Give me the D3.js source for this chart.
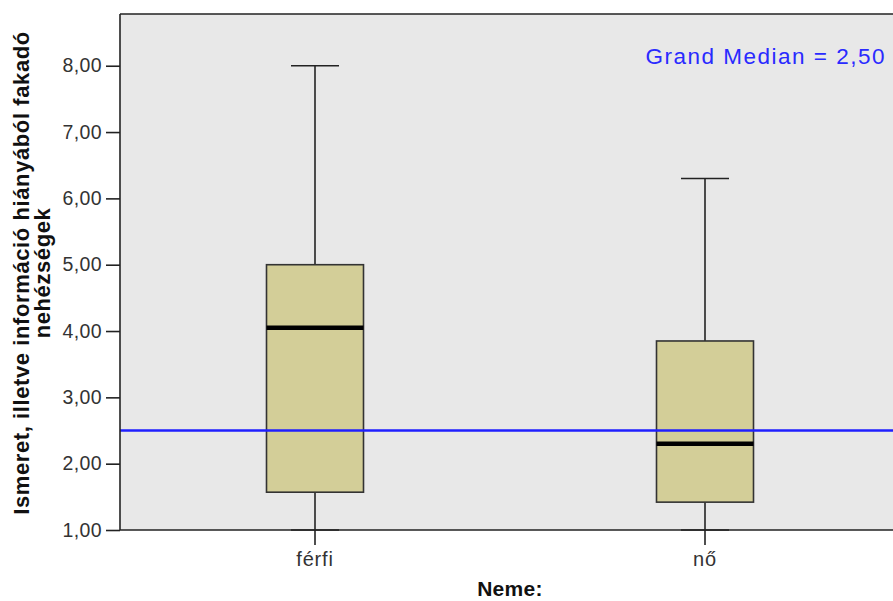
<!DOCTYPE html>
<html>
<head>
<meta charset="utf-8">
<script src="https://cdn.jsdelivr.net/npm/d3@7"></script>
<style>
  html, body { margin: 0; padding: 0; background: #fff; }
  svg { display: block; }
</style>
</head>
<body>
<svg id="chart" width="893" height="601"></svg>
<script>
// Group labels and box-plot summaries
const categories = ["férfi", "nő"];
const minValues    = [1.00, 1.00];
const q1Values     = [1.57, 1.42];
const medianValues = [4.05, 2.30];
const q3Values     = [5.00, 3.85];
const maxValues    = [8.00, 6.30];
const grandMedian = 2.50;
const yTicks = [1, 2, 3, 4, 5, 6, 7, 8];
const yTitleLines = ["Ismeret, illetve információ hiányából fakadó", "nehézségek"];
const xTitle = "Neme:";

const FONT = "Liberation Sans, Arial, sans-serif";
const svg = d3.select("#chart");
const plot = { left: 120, top: 14, right: 900, bottom: 530 };

const x = d3.scaleBand().domain(categories).range([plot.left, plot.right]).padding(0);
const y = d3.scaleLinear().domain([1, 8.78]).range([plot.bottom, plot.top]);

const fmt = v => d3.format(".2f")(v).replace(".", ",");

// plot background
svg.append("rect")
  .attr("x", plot.left).attr("y", plot.top)
  .attr("width", plot.right - plot.left).attr("height", plot.bottom - plot.top)
  .attr("fill", "#e8e8e8");

const boxes = categories.map((c, i) => ({
  cat: c, min: minValues[i], q1: q1Values[i], med: medianValues[i], q3: q3Values[i], max: maxValues[i]
}));

const boxW = 97;
const capW = 48;
const g = svg.append("g");

boxes.forEach(d => {
  const cx = x(d.cat) + x.bandwidth() / 2;
  // whiskers
  g.append("line").attr("x1", cx).attr("x2", cx).attr("y1", y(d.q3)).attr("y2", y(d.max))
    .attr("stroke", "#222").attr("stroke-width", 1.6);
  g.append("line").attr("x1", cx).attr("x2", cx).attr("y1", y(d.q1)).attr("y2", y(d.min))
    .attr("stroke", "#222").attr("stroke-width", 1.6);
  // caps
  g.append("line").attr("x1", cx - capW / 2).attr("x2", cx + capW / 2).attr("y1", y(d.max)).attr("y2", y(d.max))
    .attr("stroke", "#222").attr("stroke-width", 1.6);
  g.append("line").attr("x1", cx - capW / 2).attr("x2", cx + capW / 2).attr("y1", y(d.min)).attr("y2", y(d.min))
    .attr("stroke", "#222").attr("stroke-width", 1.6);
  // box
  g.append("rect")
    .attr("x", cx - boxW / 2).attr("y", y(d.q3))
    .attr("width", boxW).attr("height", y(d.q1) - y(d.q3))
    .attr("fill", "#d3ce98").attr("stroke", "#333").attr("stroke-width", 1.6);
  // median
  g.append("line").attr("x1", cx - boxW / 2).attr("x2", cx + boxW / 2)
    .attr("y1", y(d.med)).attr("y2", y(d.med))
    .attr("stroke", "#000").attr("stroke-width", 4.5);
});

// grand median reference line
svg.append("line")
  .attr("x1", plot.left).attr("x2", plot.right)
  .attr("y1", y(grandMedian)).attr("y2", y(grandMedian))
  .attr("stroke", "#1f1fff").attr("stroke-width", 2.6);

svg.append("text")
  .attr("x", 886).attr("y", 64)
  .attr("text-anchor", "end")
  .attr("font-family", FONT)
  .attr("font-size", 22.5)
  .attr("letter-spacing", 1.5)
  .attr("fill", "#2a2aff")
  .text("Grand Median = " + fmt(grandMedian));

// frame line (top)
svg.append("line").attr("x1", plot.left).attr("x2", plot.right).attr("y1", plot.top).attr("y2", plot.top)
  .attr("stroke", "#222").attr("stroke-width", 1.6);

// y axis
const yAxis = svg.append("g")
  .attr("transform", `translate(${plot.left},0)`)
  .call(d3.axisLeft(y).tickValues(yTicks).tickFormat(fmt).tickSize(14).tickPadding(4));
yAxis.select(".domain").attr("stroke", "#222").attr("stroke-width", 1.6)
  .attr("d", `M0,${plot.top}V${plot.bottom}`);
yAxis.selectAll(".tick line").attr("stroke", "#222").attr("stroke-width", 1.6);
yAxis.selectAll(".tick text")
  .attr("font-family", FONT)
  .attr("font-size", 19.5).attr("letter-spacing", 0.4).attr("fill", "#333");

// x axis
const xAxis = svg.append("g")
  .attr("transform", `translate(0,${plot.bottom})`)
  .call(d3.axisBottom(x).tickSize(15).tickPadding(7));
xAxis.select(".domain").attr("stroke", "#222").attr("stroke-width", 1.6)
  .attr("d", `M${plot.left},0H${plot.right}`);
xAxis.selectAll(".tick line").attr("stroke", "#222").attr("stroke-width", 1.6);
xAxis.selectAll(".tick text")
  .attr("font-family", FONT)
  .attr("font-size", 20).attr("letter-spacing", 0.8).attr("fill", "#333");

// axis titles
svg.append("text")
  .attr("x", (plot.left + plot.right) / 2).attr("y", 596)
  .attr("text-anchor", "middle")
  .attr("font-family", FONT)
  .attr("font-weight", "bold").attr("font-size", 21).attr("letter-spacing", 0.3).attr("fill", "#111")
  .text(xTitle);

const yTitle = svg.append("text")
  .attr("transform", `translate(29,273) rotate(-90)`)
  .attr("text-anchor", "middle")
  .attr("font-family", FONT)
  .attr("font-weight", "bold").attr("font-size", 22).attr("letter-spacing", 0.6).attr("fill", "#111");
yTitleLines.forEach((t, i) => {
  yTitle.append("tspan").attr("x", 0).attr("dy", i === 0 ? 0 : 21).text(t);
});
</script>
</body>
</html>
